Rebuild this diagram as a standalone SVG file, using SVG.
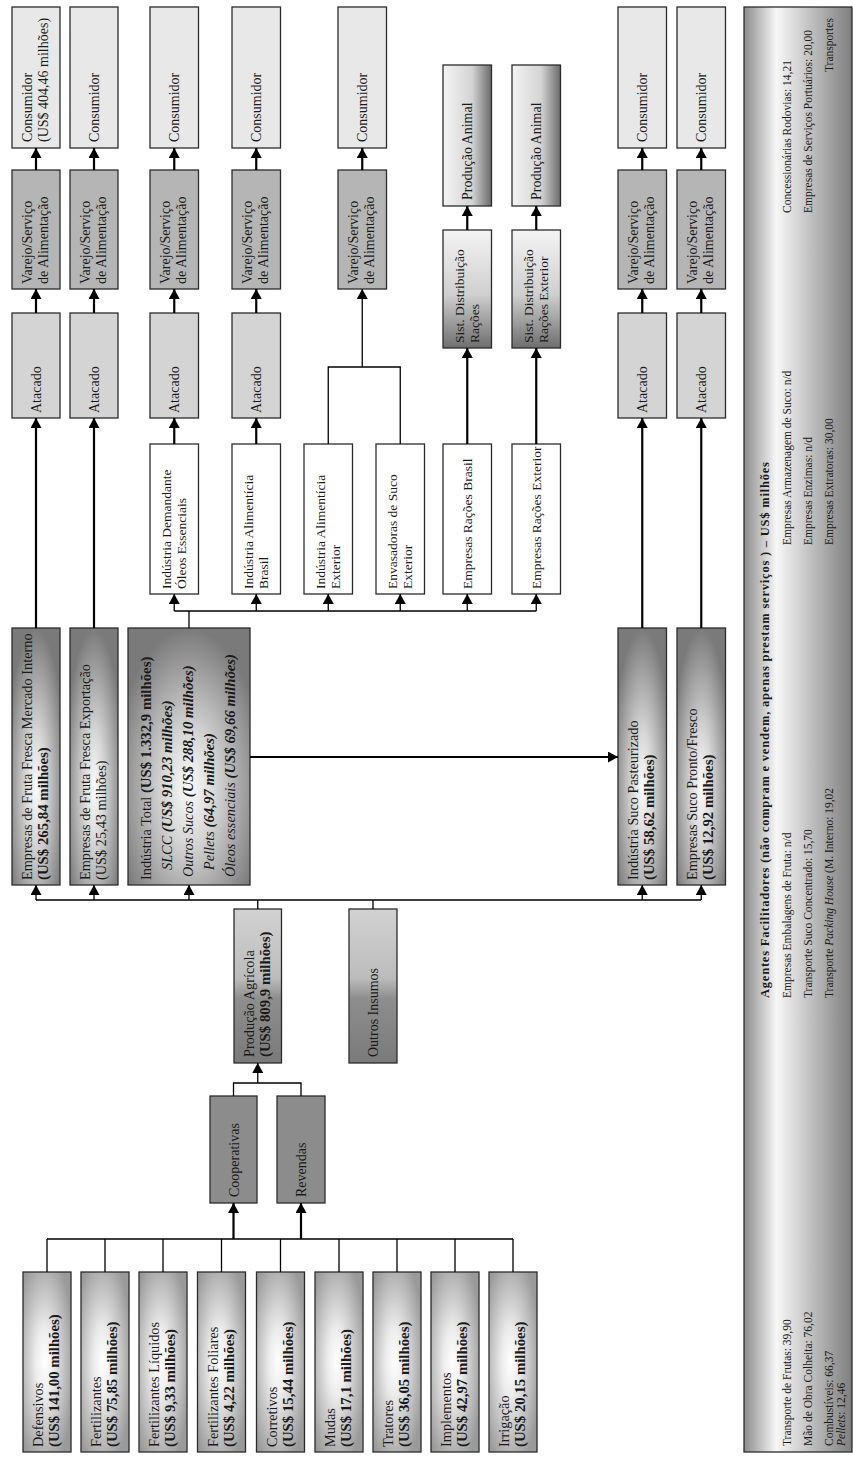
<svg xmlns="http://www.w3.org/2000/svg" width="853" height="1461" viewBox="0 0 853 1461">
<defs>
  <radialGradient id="gIn" cx="0.45" cy="0.5" r="0.62">
    <stop offset="0" stop-color="#ffffff"/>
    <stop offset="0.3" stop-color="#ececec"/>
    <stop offset="1" stop-color="#9a9a9a"/>
  </radialGradient>
  <radialGradient id="gMid" cx="0.5" cy="0.62" r="0.62">
    <stop offset="0" stop-color="#fbfbfb"/>
    <stop offset="0.35" stop-color="#d6d6d6"/>
    <stop offset="1" stop-color="#7a7a7a"/>
  </radialGradient>
  <linearGradient id="gProd" x1="0" y1="0" x2="0" y2="1">
    <stop offset="0" stop-color="#d2d2d2"/>
    <stop offset="0.45" stop-color="#bcbcbc"/>
    <stop offset="0.58" stop-color="#8e8e8e"/>
    <stop offset="1" stop-color="#7a7a7a"/>
  </linearGradient>
  <linearGradient id="gSist" x1="0" y1="0" x2="0" y2="1">
    <stop offset="0" stop-color="#f4f4f4"/>
    <stop offset="0.55" stop-color="#cfcfcf"/>
    <stop offset="1" stop-color="#6e6e6e"/>
  </linearGradient>
  <linearGradient id="gAni" x1="0" y1="0" x2="1" y2="0">
    <stop offset="0" stop-color="#f4f4f4"/>
    <stop offset="0.6" stop-color="#d4d4d4"/>
    <stop offset="1" stop-color="#6a6a6a"/>
  </linearGradient>
  <linearGradient id="gPanel" x1="0" y1="0" x2="1" y2="0">
    <stop offset="0" stop-color="#8c8c8c"/>
    <stop offset="0.3" stop-color="#f7f7f7"/>
    <stop offset="1" stop-color="#7e7e7e"/>
  </linearGradient>
  <marker id="ah" viewBox="0 0 10 11" refX="10" refY="5.5" markerWidth="10" markerHeight="11" markerUnits="userSpaceOnUse" orient="auto">
    <path d="M0,0 L10,5.5 L0,11 z" fill="#000"/>
  </marker>
</defs>
<style>
  .box{stroke:#2b2b2b;stroke-width:1.3}
  .in{fill:url(#gIn)}
  .mid{fill:url(#gMid)}
  .prod{fill:url(#gProd)}
  .sist{fill:url(#gSist)}
  .ani{fill:url(#gAni)}
  .cons{fill:#e8e8e8}
  .var{fill:#b5b5b5}
  .ata{fill:#d4d4d4}
  .coop{fill:#8c8c8c}
  .wht{fill:#ffffff}
  .t{font-family:"Liberation Serif","Times New Roman",serif;font-size:14px;fill:#1a1a1a}
  .tw{font-size:13.5px}
  .tl{font-size:14.3px}
  .p{font-family:"Liberation Serif","Times New Roman",serif;font-size:11.5px;fill:#1a1a1a}
  .b{font-weight:bold}
  .bl{font-weight:bold;font-size:14.8px}
  .i{font-style:italic}
  .c{fill:none;stroke:#000;stroke-width:1.3}
  .k{fill:none;stroke:#000;stroke-width:2.2}
  .a{marker-end:url(#ah)}
</style>
<rect width="853" height="1461" fill="#ffffff"/>

<!-- Inputs -->
<g id="n-defensivos"><rect class="box in" x="23" y="1272" width="48" height="180"/><text class="t tl" transform="translate(43,1447) rotate(-90)"><tspan>Defensivos</tspan><tspan class="bl" x="0" dy="16">(US$ 141,00 milhões)</tspan></text></g>
<g id="n-fertilizantes"><rect class="box in" x="81" y="1272" width="48" height="180"/><text class="t tl" transform="translate(101,1447) rotate(-90)"><tspan>Fertilizantes</tspan><tspan class="bl" x="0" dy="16">(US$ 75,85 milhões)</tspan></text></g>
<g id="n-fert-liquidos"><rect class="box in" x="139" y="1272" width="48" height="180"/><text class="t tl" transform="translate(159,1447) rotate(-90)"><tspan>Fertilizantes Líquidos</tspan><tspan class="bl" x="0" dy="16">(US$ 9,33 milhões)</tspan></text></g>
<g id="n-fert-foliares"><rect class="box in" x="197.5" y="1272" width="48" height="180"/><text class="t tl" transform="translate(217.5,1447) rotate(-90)"><tspan>Fertilizantes Foliares</tspan><tspan class="bl" x="0" dy="16">(US$ 4,22 milhões)</tspan></text></g>
<g id="n-corretivos"><rect class="box in" x="256.5" y="1272" width="48" height="180"/><text class="t tl" transform="translate(276.5,1447) rotate(-90)"><tspan>Corretivos</tspan><tspan class="bl" x="0" dy="16">(US$ 15,44 milhões)</tspan></text></g>
<g id="n-mudas"><rect class="box in" x="315" y="1272" width="48" height="180"/><text class="t tl" transform="translate(335,1447) rotate(-90)"><tspan>Mudas</tspan><tspan class="bl" x="0" dy="16">(US$ 17,1 milhões)</tspan></text></g>
<g id="n-tratores"><rect class="box in" x="373" y="1272" width="48" height="180"/><text class="t tl" transform="translate(393,1447) rotate(-90)"><tspan>Tratores</tspan><tspan class="bl" x="0" dy="16">(US$ 36,05 milhões)</tspan></text></g>
<g id="n-implementos"><rect class="box in" x="431" y="1272" width="48" height="180"/><text class="t tl" transform="translate(451,1447) rotate(-90)"><tspan>Implementos</tspan><tspan class="bl" x="0" dy="16">(US$ 42,97 milhões)</tspan></text></g>
<g id="n-irrigacao"><rect class="box in" x="489" y="1272" width="48" height="180"/><text class="t tl" transform="translate(509,1447) rotate(-90)"><tspan>Irrigação</tspan><tspan class="bl" x="0" dy="16">(US$ 20,15 milhões)</tspan></text></g>

<!-- Distribution -->
<g id="n-cooperativas"><rect class="box coop" x="210" y="1096" width="47" height="107"/><text class="t" transform="translate(238.5,1197) rotate(-90)">Cooperativas</text></g>
<g id="n-revendas"><rect class="box coop" x="277" y="1096" width="48" height="107"/><text class="t" transform="translate(306,1197) rotate(-90)">Revendas</text></g>

<g id="n-producao-agricola"><rect class="box prod" x="234" y="909" width="47.5" height="154"/><text class="t tl" transform="translate(254,1057) rotate(-90)"><tspan>Produção Agrícola</tspan><tspan class="bl" x="0" dy="16">(US$ 809,9 milhões)</tspan></text></g>
<g id="n-outros-insumos"><rect class="box prod" x="349" y="909" width="48" height="154"/><text class="t" transform="translate(378,1057) rotate(-90)">Outros Insumos</text></g>

<!-- Processing -->
<g id="n-emp-mi"><rect class="box mid" x="12" y="628" width="48" height="257"/><text class="t tl" transform="translate(32,880) rotate(-90)"><tspan>Empresas de Fruta Fresca Mercado Interno</tspan><tspan class="bl" x="0" dy="16">(US$ 265,84 milhões)</tspan></text></g>
<g id="n-emp-exp"><rect class="box mid" x="70" y="628" width="48" height="257"/><text class="t tl" transform="translate(90,880) rotate(-90)"><tspan>Empresas de Fruta Fresca Exportação</tspan><tspan x="0" dy="16">(US$ 25,43 milhões)</tspan></text></g>
<g id="n-industria-total"><rect class="box mid" x="128" y="628" width="122" height="257"/>
  <text class="t tl" transform="translate(151,880) rotate(-90)">Indústria Total <tspan class="bl">(US$ 1.332,9 milhões)</tspan></text>
  <text class="t tl" transform="translate(172,870) rotate(-90)"><tspan class="i">SLCC</tspan> <tspan class="bl i">(US$ 910,23 milhões)</tspan></text>
  <text class="t tl" transform="translate(193,877) rotate(-90)"><tspan class="i">Outros Sucos</tspan> <tspan class="bl i">(US$ 288,10 milhões)</tspan></text>
  <text class="t tl" transform="translate(214,870) rotate(-90)"><tspan class="i">Pellets</tspan> <tspan class="bl i">(64,97 milhões)</tspan></text>
  <text class="t tl" transform="translate(235,877) rotate(-90)"><tspan class="i">Óleos essenciais</tspan> <tspan class="bl i">(US$ 69,66 milhões)</tspan></text>
</g>
<g id="n-ind-pasteurizado"><rect class="box mid" x="618" y="628" width="48.5" height="257"/><text class="t tl" transform="translate(638,880) rotate(-90)"><tspan>Indústria Suco Pasteurizado</tspan><tspan class="bl" x="0" dy="16">(US$ 58,62 milhões)</tspan></text></g>
<g id="n-emp-pronto"><rect class="box mid" x="677" y="628" width="48.5" height="257"/><text class="t tl" transform="translate(697,880) rotate(-90)"><tspan>Empresas Suco Pronto/Fresco</tspan><tspan class="bl" x="0" dy="16">(US$ 12,92 milhões)</tspan></text></g>

<!-- Demand industries -->
<g id="n-ind-oleos"><rect class="box wht" x="150" y="444" width="48.5" height="150"/><text class="t tw" transform="translate(170.5,589) rotate(-90)"><tspan>Indústria Demandante</tspan><tspan x="0" dy="15.5">Óleos Essenciais</tspan></text></g>
<g id="n-ind-alim-brasil"><rect class="box wht" x="232" y="444" width="48.5" height="150"/><text class="t tw" transform="translate(252.5,589) rotate(-90)"><tspan>Indústria Alimentícia</tspan><tspan x="0" dy="15.5">Brasil</tspan></text></g>
<g id="n-ind-alim-ext"><rect class="box wht" x="304" y="444" width="48.5" height="150"/><text class="t tw" transform="translate(324.5,589) rotate(-90)"><tspan>Indústria Alimentícia</tspan><tspan x="0" dy="15.5">Exterior</tspan></text></g>
<g id="n-envasadoras"><rect class="box wht" x="376" y="444" width="48.5" height="150"/><text class="t tw" transform="translate(396.5,589) rotate(-90)"><tspan>Envasadoras de Suco</tspan><tspan x="0" dy="15.5">Exterior</tspan></text></g>
<g id="n-racoes-brasil"><rect class="box wht" x="443" y="444" width="48.5" height="150"/><text class="t tw" transform="translate(471.5,589) rotate(-90)">Empresas Rações Brasil</text></g>
<g id="n-racoes-ext"><rect class="box wht" x="512" y="444" width="48.5" height="150"/><text class="t tw" transform="translate(540.5,589) rotate(-90)">Empresas Rações Exterior</text></g>

<!-- Atacado -->
<g id="n-atacado-1"><rect class="box ata" x="12" y="313" width="48" height="105"/><text class="t" transform="translate(40.5,413) rotate(-90)">Atacado</text></g>
<g id="n-atacado-2"><rect class="box ata" x="70" y="313" width="48" height="105"/><text class="t" transform="translate(98.5,413) rotate(-90)">Atacado</text></g>
<g id="n-atacado-3"><rect class="box ata" x="150" y="313" width="48.5" height="105"/><text class="t" transform="translate(178.5,413) rotate(-90)">Atacado</text></g>
<g id="n-atacado-4"><rect class="box ata" x="232" y="313" width="48.5" height="105"/><text class="t" transform="translate(260.5,413) rotate(-90)">Atacado</text></g>
<g id="n-atacado-8"><rect class="box ata" x="618" y="313" width="48.5" height="105"/><text class="t" transform="translate(646.5,413) rotate(-90)">Atacado</text></g>
<g id="n-atacado-9"><rect class="box ata" x="677" y="313" width="48.5" height="105"/><text class="t" transform="translate(705.5,413) rotate(-90)">Atacado</text></g>

<!-- Varejo -->
<g id="n-varejo-1"><rect class="box var" x="12" y="170" width="48" height="119"/><text class="t" transform="translate(32,284) rotate(-90)"><tspan>Varejo/Serviço</tspan><tspan x="0" dy="15.5">de Alimentação</tspan></text></g>
<g id="n-varejo-2"><rect class="box var" x="70" y="170" width="48" height="119"/><text class="t" transform="translate(90,284) rotate(-90)"><tspan>Varejo/Serviço</tspan><tspan x="0" dy="15.5">de Alimentação</tspan></text></g>
<g id="n-varejo-3"><rect class="box var" x="150" y="170" width="48.5" height="119"/><text class="t" transform="translate(170,284) rotate(-90)"><tspan>Varejo/Serviço</tspan><tspan x="0" dy="15.5">de Alimentação</tspan></text></g>
<g id="n-varejo-4"><rect class="box var" x="232" y="170" width="48.5" height="119"/><text class="t" transform="translate(252,284) rotate(-90)"><tspan>Varejo/Serviço</tspan><tspan x="0" dy="15.5">de Alimentação</tspan></text></g>
<g id="n-varejo-5"><rect class="box var" x="338" y="170" width="48.5" height="119"/><text class="t" transform="translate(358,284) rotate(-90)"><tspan>Varejo/Serviço</tspan><tspan x="0" dy="15.5">de Alimentação</tspan></text></g>
<g id="n-varejo-8"><rect class="box var" x="618" y="170" width="48.5" height="119"/><text class="t" transform="translate(638,284) rotate(-90)"><tspan>Varejo/Serviço</tspan><tspan x="0" dy="15.5">de Alimentação</tspan></text></g>
<g id="n-varejo-9"><rect class="box var" x="677" y="170" width="48.5" height="119"/><text class="t" transform="translate(697,284) rotate(-90)"><tspan>Varejo/Serviço</tspan><tspan x="0" dy="15.5">de Alimentação</tspan></text></g>

<!-- Rações distribution -->
<g id="n-sist-racoes"><rect class="box sist" x="443" y="230" width="48.5" height="118"/><text class="t tw" transform="translate(463.5,343) rotate(-90)"><tspan>Sist. Distribuição</tspan><tspan x="0" dy="15">Rações</tspan></text></g>
<g id="n-sist-racoes-ext"><rect class="box sist" x="512" y="230" width="48.5" height="118"/><text class="t tw" transform="translate(532.5,343) rotate(-90)"><tspan>Sist. Distribuição</tspan><tspan x="0" dy="15">Rações Exterior</tspan></text></g>
<g id="n-prod-animal-1"><rect class="box ani" x="443" y="65" width="48.5" height="141"/><text class="t" transform="translate(471.5,200) rotate(-90)">Produção Animal</text></g>
<g id="n-prod-animal-2"><rect class="box ani" x="512" y="65" width="48.5" height="141"/><text class="t" transform="translate(540.5,200) rotate(-90)">Produção Animal</text></g>

<!-- Consumidor -->
<g id="n-consumidor-1"><rect class="box cons" x="12" y="7" width="48" height="141"/><text class="t" transform="translate(32,142) rotate(-90)"><tspan>Consumidor</tspan><tspan x="0" dy="15.5">(US$ 404,46 milhões)</tspan></text></g>
<g id="n-consumidor-2"><rect class="box cons" x="70" y="7" width="48" height="141"/><text class="t" transform="translate(98.5,142) rotate(-90)">Consumidor</text></g>
<g id="n-consumidor-3"><rect class="box cons" x="150" y="7" width="48.5" height="141"/><text class="t" transform="translate(178.5,142) rotate(-90)">Consumidor</text></g>
<g id="n-consumidor-4"><rect class="box cons" x="232" y="7" width="48.5" height="141"/><text class="t" transform="translate(260.5,142) rotate(-90)">Consumidor</text></g>
<g id="n-consumidor-5"><rect class="box cons" x="338" y="7" width="48.5" height="141"/><text class="t" transform="translate(366.5,142) rotate(-90)">Consumidor</text></g>
<g id="n-consumidor-8"><rect class="box cons" x="618" y="7" width="48.5" height="141"/><text class="t" transform="translate(646.5,142) rotate(-90)">Consumidor</text></g>
<g id="n-consumidor-9"><rect class="box cons" x="677" y="7" width="48.5" height="141"/><text class="t" transform="translate(705.5,142) rotate(-90)">Consumidor</text></g>

<!-- Agents panel -->
<g id="n-agentes">
  <rect class="box" fill="url(#gPanel)" x="744" y="7" width="108" height="1445"/>
  <text class="p" transform="translate(791,1446) rotate(-90)">Transporte de Frutas: 39,90</text>
  <text class="p" transform="translate(812,1446) rotate(-90)">Mão de Obra Colheita: 76,02</text>
  <text class="p" transform="translate(833,1446) rotate(-90)">Combustíveis: 66,37</text>
  <text class="p" transform="translate(845,1446) rotate(-90)"><tspan class="i">Pellets</tspan>: 12,46</text>
  <text class="p b" transform="translate(769,998) rotate(-90)" style="font-size:12.5px" textLength="536" lengthAdjust="spacing">Agentes Facilitadores (não compram e vendem, apenas prestam serviços ) – US$ milhões</text>
  <text class="p" transform="translate(791,998) rotate(-90)">Empresas Embalagens de Fruta: n/d</text>
  <text class="p" transform="translate(812,998) rotate(-90)">Transporte Suco Concentrado: 15,70</text>
  <text class="p" transform="translate(833,998) rotate(-90)">Transporte <tspan class="i">Packing House</tspan> (M. Interno: 19,02</text>
  <text class="p" transform="translate(791,545) rotate(-90)">Empresas Armazenagem de Suco: n/d</text>
  <text class="p" transform="translate(812,545) rotate(-90)">Empresas Enzimas: n/d</text>
  <text class="p" transform="translate(833,545) rotate(-90)">Empresas Extratoras: 30,00</text>
  <text class="p" transform="translate(791,213) rotate(-90)">Concessionárias Rodovias: 14,21</text>
  <text class="p" transform="translate(812,213) rotate(-90)">Empresas de Serviços Portuários: 20,00</text>
  <text class="p" transform="translate(833,72) rotate(-90)">Transportes</text>
</g>

<!-- Connectors -->
<g id="connectors">
  <path class="c" d="M47,1272V1239 M105,1272V1239 M163,1272V1239 M221.5,1272V1239 M280.5,1272V1239 M339,1272V1239 M397,1272V1239 M455,1272V1239 M513,1272V1239 M47,1239H513"/>
  <path class="k a" d="M233.5,1239V1203"/>
  <path class="k a" d="M301,1239V1203"/>
  <path class="c" d="M233.5,1096V1083H301V1096"/>
  <path class="c a" d="M257.75,1083V1063"/>
  <path class="c" d="M257.75,909V900 M373,909V900 M36,900H701"/>
  <path class="c a" d="M36,900V885"/>
  <path class="c a" d="M94,900V885"/>
  <path class="c a" d="M189,900V885"/>
  <path class="c a" d="M642.25,900V885"/>
  <path class="c a" d="M701.25,900V885"/>
  <path class="k a" d="M250,757H618"/>
  <path class="c" d="M189,628V611 M174.25,611H536.25"/>
  <path class="c a" d="M174.25,611V594"/>
  <path class="c a" d="M256.25,611V594"/>
  <path class="c a" d="M328.25,611V594"/>
  <path class="c a" d="M400.25,611V594"/>
  <path class="c a" d="M467.25,611V594"/>
  <path class="c a" d="M536.25,611V594"/>
  <path class="k a" d="M36,628V418"/>
  <path class="k a" d="M94,628V418"/>
  <path class="k a" d="M642.25,628V418"/>
  <path class="k a" d="M701.25,628V418"/>
  <path class="k a" d="M174.25,444V418"/>
  <path class="k a" d="M256.25,444V418"/>
  <path class="c" d="M328.25,444V367H400.25V444"/>
  <path class="c a" d="M362.25,367V289"/>
  <path class="k a" d="M467.25,444V348"/>
  <path class="k a" d="M536.25,444V348"/>
  <path class="k a" d="M467.25,230V206"/>
  <path class="k a" d="M536.25,230V206"/>
  <path class="k a" d="M36,313V289"/>
  <path class="k a" d="M94,313V289"/>
  <path class="k a" d="M174.25,313V289"/>
  <path class="k a" d="M256.25,313V289"/>
  <path class="k a" d="M642.25,313V289"/>
  <path class="k a" d="M701.25,313V289"/>
  <path class="k a" d="M36,170V148"/>
  <path class="k a" d="M94,170V148"/>
  <path class="k a" d="M174.25,170V148"/>
  <path class="k a" d="M256.25,170V148"/>
  <path class="k a" d="M362.25,170V148"/>
  <path class="k a" d="M642.25,170V148"/>
  <path class="k a" d="M701.25,170V148"/>
</g>
</svg>
